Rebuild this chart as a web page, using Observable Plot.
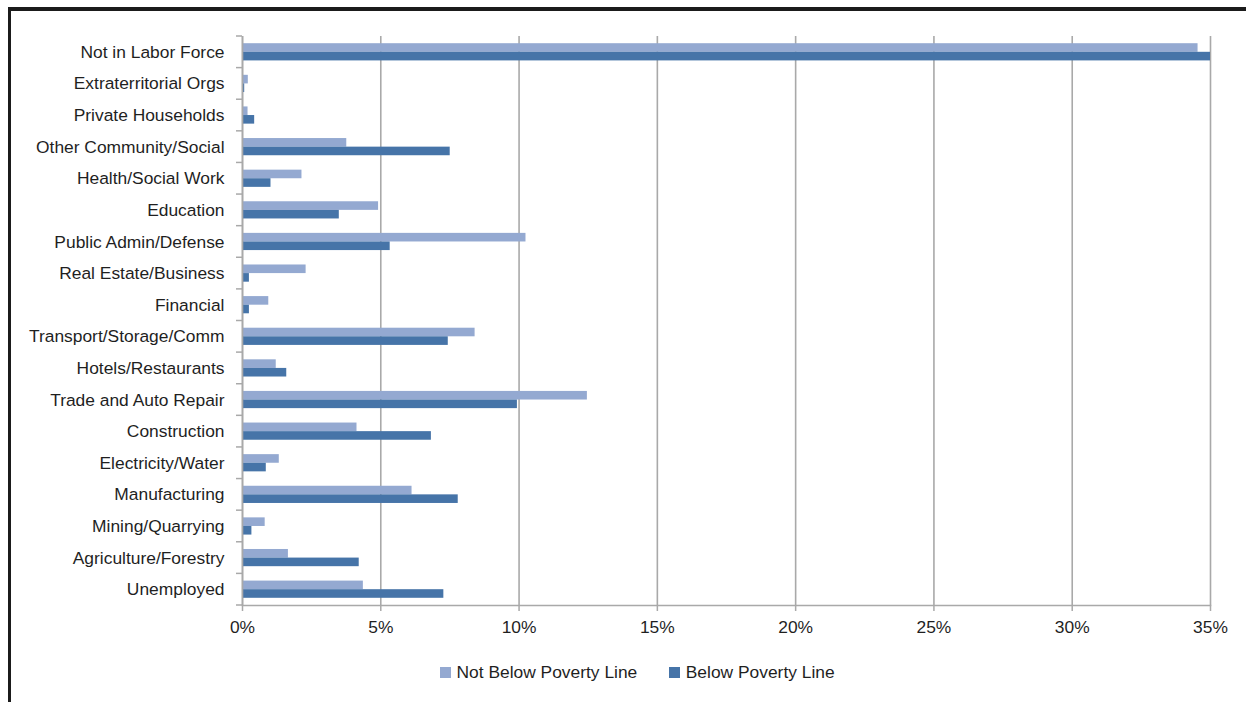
<!DOCTYPE html>
<html>
<head>
<meta charset="utf-8">
<script src="https://cdn.jsdelivr.net/npm/d3@7"></script>
<script src="https://cdn.jsdelivr.net/npm/@observablehq/plot@0.6"></script>
<style>
  html, body { margin: 0; padding: 0; background: #fff; }
  body { width: 1246px; height: 702px; position: relative; overflow: hidden;
         font-family: "Liberation Sans", Arial, sans-serif; }
  #frame { position: absolute; left: 8px; top: 7px; width: 1250px; height: 700px;
           border-top: 4px solid #1b1b1b; border-left: 3px solid #1b1b1b; box-sizing: border-box; }
  #chart { position: absolute; left: 0; top: 0; }
  #legend { position: absolute; left: 440px; top: 662px; display: flex; align-items: center;
            font-size: 17.4px; color: #1f1f1f; white-space: nowrap; }
  .item { display: flex; align-items: center; margin-right: 32px; }
  .sw { width: 10.5px; height: 10.5px; margin-right: 6px; }
</style>
</head>
<body>
<div id="frame"></div>
<div id="chart"></div>
<div id="legend"></div>
<script>
// Categories, top to bottom
const categories = [
  "Not in Labor Force", "Extraterritorial Orgs", "Private Households",
  "Other Community/Social", "Health/Social Work", "Education",
  "Public Admin/Defense", "Real Estate/Business", "Financial",
  "Transport/Storage/Comm", "Hotels/Restaurants", "Trade and Auto Repair",
  "Construction", "Electricity/Water", "Manufacturing", "Mining/Quarrying",
  "Agriculture/Forestry", "Unemployed"
];
// Percent of each group
const notBelowPoverty = [34.55, 0.21, 0.20, 3.77, 2.15, 4.92, 10.25, 2.30, 0.95,
                         8.41, 1.22, 12.47, 4.14, 1.33, 6.13, 0.82, 1.66, 4.37];
const belowPoverty    = [35.30, 0.08, 0.44, 7.51, 1.03, 3.50, 5.34, 0.25, 0.25,
                         7.44, 1.60, 9.94, 6.83, 0.86, 7.80, 0.34, 4.22, 7.28];
const seriesNames = ["Not Below Poverty Line", "Below Poverty Line"];
const seriesColors = ["#94a9d1", "#4674a8"];
const xTicks = [0, 5, 10, 15, 20, 25, 30, 35];

const rows = categories.map((c, i) => ({category: c, notBelow: notBelowPoverty[i], below: belowPoverty[i]}));

const W = 1246, H = 645, mt = 36, mb = 40, ml = 242, mr = 36;
const bandH = (H - mt - mb) / categories.length;
const barH = 8.6;
const grid = "#a9a9a9";
const textColor = "#1f1f1f";

function yBoundaryTicks(index, scales, values, dims) {
  const y = scales.y;
  const bw = typeof y.bandwidth === "function" ? y.bandwidth() : y.bandwidth;
  const ys = categories.map(c => y(c)).concat([y(categories[categories.length - 1]) + bw]);
  const g = d3.create("svg:g");
  g.selectAll("line").data(ys).join("line")
    .attr("x1", dims.marginLeft - 6).attr("x2", dims.marginLeft)
    .attr("y1", d => d).attr("y2", d => d)
    .attr("stroke", grid).attr("stroke-width", 1.5);
  return g.node();
}

const chart = Plot.plot({
  width: W, height: H,
  marginTop: mt, marginBottom: mb, marginLeft: ml, marginRight: mr,
  style: {fontFamily: "'Liberation Sans', Arial, sans-serif", fontSize: "17.4px", color: textColor, background: "transparent"},
  x: {domain: [0, 35], clamp: true},
  y: {domain: categories, padding: 0, round: false},
  marks: [
    Plot.gridX(xTicks, {stroke: grid, strokeOpacity: 1, strokeWidth: 1.6}),
    Plot.barX(rows, {y: "category", x: "notBelow", fill: seriesColors[0],
                     insetTop: bandH / 2 - barH, insetBottom: bandH / 2}),
    Plot.barX(rows, {y: "category", x: "below", fill: seriesColors[1],
                     insetTop: bandH / 2, insetBottom: bandH / 2 - barH}),
    Plot.ruleX([0], {stroke: grid, strokeWidth: 1.6}),
    Plot.frame({anchor: "bottom", stroke: grid, strokeWidth: 1.6}),
    Plot.axisX(xTicks, {tickSize: 6, tickPadding: 9, tickFormat: d => d + "%", label: null,
                        stroke: grid, fill: textColor, strokeWidth: 1.5}),
    Plot.axisY({tickSize: 0, tickPadding: 18, label: null, fill: textColor}),
    yBoundaryTicks
  ]
});
document.getElementById("chart").appendChild(chart);

const legend = d3.select("#legend");
seriesNames.forEach((name, i) => {
  const item = legend.append("div").attr("class", "item");
  item.append("div").attr("class", "sw").style("background", seriesColors[i]);
  item.append("span").text(name);
});
</script>
</body>
</html>
